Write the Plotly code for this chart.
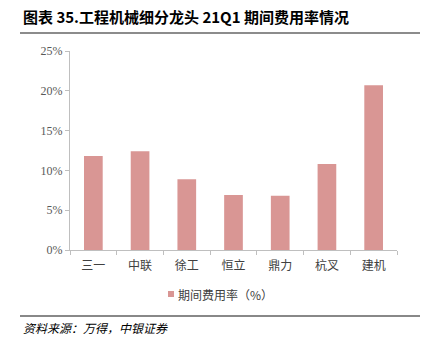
import plotly.graph_objects as go

categories = ["三一", "中联", "徐工", "恒立", "鼎力", "杭叉", "建机"]
values = [11.8, 12.4, 8.9, 6.9, 6.8, 10.8, 20.7]
series_name = "期间费用率（%）"
y_ticks = [0, 5, 10, 15, 20, 25]
y_tick_labels = ["0%", "5%", "10%", "15%", "20%", "25%"]
bar_color = "#D99694"

W, H = 428, 351
L, R, T, B = 70, 31, 51, 101
pw, ph = W - L - R, H - T - B

def px(x):
    return (x - L) / pw

def py(y):
    return (H - B - y) / ph

fig = go.Figure()
fig.add_trace(go.Bar(
    x=categories, y=values, name=series_name,
    marker=dict(color=bar_color, line=dict(width=0)),
    width=0.4, showlegend=False,
))

fig.update_layout(
    width=W, height=H,
    margin=dict(l=L, r=R, t=T, b=B),
    paper_bgcolor="white", plot_bgcolor="white",
    font=dict(family="Noto Sans CJK SC", color="#404040"),
    xaxis=dict(
        showline=True, linecolor="#BFBFBF", linewidth=1,
        ticks="outside", tickson="boundaries", ticklen=4, tickcolor="#BFBFBF",
        tickfont=dict(family="Noto Sans CJK SC", size=12, color="#404040"),
        ticklabelstandoff=5,
        showgrid=False,
    ),
    yaxis=dict(
        range=[0, 25], tickvals=y_ticks, ticktext=y_tick_labels,
        showline=True, linecolor="#BFBFBF", linewidth=1,
        ticks="outside", ticklen=4, tickcolor="#BFBFBF",
        tickfont=dict(family="Liberation Serif", size=12, color="#595959"),
        showgrid=False, zeroline=False,
    ),
    bargap=0.6,
)

# manual legend
fig.add_shape(type="rect", xref="paper", yref="paper",
              x0=px(168), x1=px(174), y0=py(297), y1=py(291),
              fillcolor=bar_color, line=dict(width=0))
fig.add_annotation(
    text=series_name,
    xref="paper", yref="paper", x=px(176), y=py(294.5), xanchor="left", yanchor="middle",
    showarrow=False, font=dict(family="Noto Sans CJK SC", size=12, color="#404040"),
)

fig.add_annotation(
    text="<b>图表 35.工程机械细分龙头 21Q1 期间费用率情况</b>",
    xref="paper", yref="paper", x=px(21), y=py(17), xanchor="left", yanchor="middle",
    showarrow=False, font=dict(family="Noto Sans CJK SC", size=15, color="#000000"),
)
fig.add_shape(type="line", xref="paper", yref="paper",
              x0=px(20), x1=px(420), y0=py(33), y1=py(33),
              line=dict(color="#8C8C8C", width=2))
fig.add_shape(type="line", xref="paper", yref="paper",
              x0=px(20), x1=px(420), y0=py(316), y1=py(316),
              line=dict(color="#606060", width=1.5))
fig.add_annotation(
    text="<i>资料来源：万得，中银证券</i>",
    xref="paper", yref="paper", x=px(21), y=py(327), xanchor="left", yanchor="middle",
    showarrow=False, font=dict(family="Noto Sans CJK SC", size=12, color="#000000"),
)

fig.write_html("out.html")
